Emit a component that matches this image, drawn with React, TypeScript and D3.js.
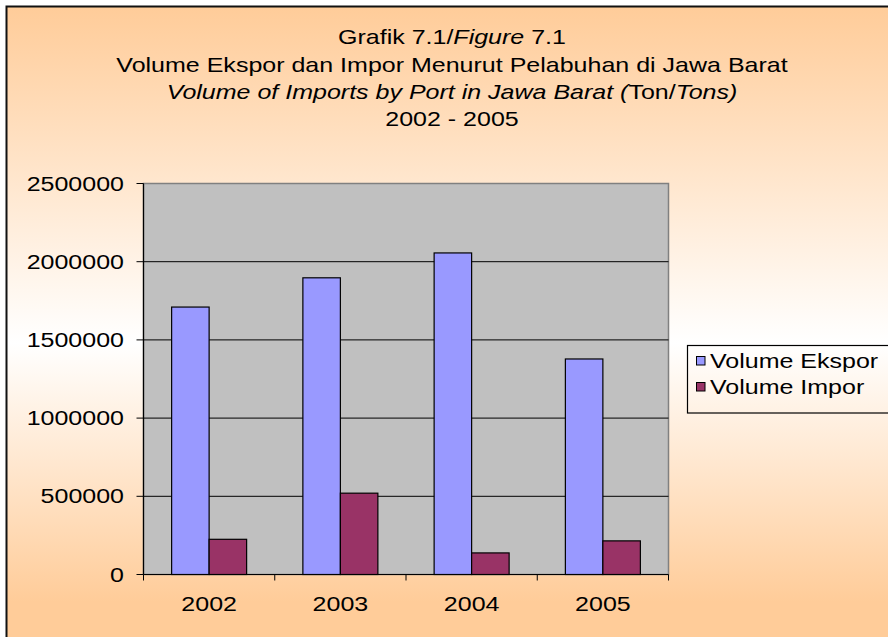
import React from 'react';
import * as d3 from 'd3';

const years = ['2002', '2003', '2004', '2005'];
const seriesNames = ['Volume Ekspor', 'Volume Impor'];
const ekspor = [1710000, 1897000, 2056000, 1378000];
const impor = [225000, 520000, 138000, 215000];
const yTicks = [0, 500000, 1000000, 1500000, 2000000, 2500000];

const colors = ['#9999FF', '#993366'];
const W = 888;
const H = 637;
const SX = 1.22; // text in the original is stretched wide
const font = 'Arial, "Liberation Sans", sans-serif';

const plot = { left: 143.5, right: 668.5, top: 183.5, bottom: 574.5 };

// text stretched horizontally around its anchor
const T = ({ x, y, anchor = 'start', size = 20.5, children, dy }: any) => (
  <text
    transform={`translate(${x},${y}) scale(${SX},1)`}
    textAnchor={anchor}
    fontSize={size}
    fontFamily={font}
    fill="#000"
    dy={dy}
  >
    {children}
  </text>
);

export default function App() {
  const y = d3.scaleLinear().domain([0, 2500000]).range([plot.bottom, plot.top]);
  const x = d3.scaleBand().domain(years).range([plot.left, plot.right]).padding(0);
  const step = x.bandwidth();
  const barW = step / 3.5; // excel gap width 150%
  const inner = d3
    .scaleBand()
    .domain(seriesNames)
    .range([barW * 0.75, step - barW * 0.75]);

  const series = [ekspor, impor];
  const cx = W / 2 + 8;

  return (
    <svg width={W} height={H} style={{ position: 'absolute', left: 0, top: 0 }}>
      <defs>
        <linearGradient id="bg" x1="0" y1="0" x2="0" y2="1">
          <stop offset="0" stopColor="#FFCC99" />
          <stop offset="0.52" stopColor="#FFFFFF" />
          <stop offset="0.92" stopColor="#FFCC99" />
          <stop offset="1" stopColor="#FFCC99" />
        </linearGradient>
      </defs>
      <rect x={0} y={0} width={W} height={H} fill="#fff" />
      <rect x={6.5} y={6.5} width={W + 10} height={H + 10} fill="url(#bg)" stroke="#111" strokeWidth={2} />

      {/* title */}
      <T x={cx} y={44} anchor="middle">
        Grafik 7.1/<tspan fontStyle="italic">Figure</tspan> 7.1
      </T>
      <T x={cx} y={71.5} anchor="middle">
        Volume Ekspor dan Impor Menurut Pelabuhan di Jawa Barat
      </T>
      <T x={cx} y={98.5} anchor="middle">
        <tspan fontStyle="italic">Volume of Imports by Port in Jawa Barat (</tspan>Ton/
        <tspan fontStyle="italic">Tons)</tspan>
      </T>
      <T x={cx} y={126} anchor="middle">
        2002 - 2005
      </T>

      {/* plot area */}
      <rect
        x={plot.left}
        y={plot.top}
        width={plot.right - plot.left}
        height={plot.bottom - plot.top}
        fill="#C0C0C0"
        stroke="#808080"
        strokeWidth={1.5}
      />
      {yTicks.slice(1, -1).map((t) => (
        <line key={t} x1={plot.left} x2={plot.right} y1={y(t)} y2={y(t)} stroke="#000" strokeWidth={1} />
      ))}

      {/* bars */}
      {years.map((yr, i) => (
        <g key={yr} transform={`translate(${x(yr)},0)`}>
          {series.map((s, j) => (
            <rect
              key={j}
              x={inner(seriesNames[j])}
              y={y(s[i])}
              width={inner.bandwidth()}
              height={y(0) - y(s[i])}
              fill={colors[j]}
              stroke="#000"
              strokeWidth={1.2}
            />
          ))}
        </g>
      ))}

      {/* axes */}
      <line x1={plot.left} x2={plot.left} y1={plot.top} y2={plot.bottom} stroke="#000" strokeWidth={1.2} />
      <line x1={plot.left} x2={plot.right} y1={plot.bottom} y2={plot.bottom} stroke="#000" strokeWidth={1.2} />
      {yTicks.map((t) => (
        <g key={t}>
          <line x1={plot.left - 7} x2={plot.left} y1={y(t)} y2={y(t)} stroke="#000" />
          <T x={124} y={y(t)} anchor="end" dy="0.35em">
            {t}
          </T>
        </g>
      ))}
      {[...years.map((yr) => x(yr) as number), plot.right].map((v, i) => (
        <line key={i} x1={v} x2={v} y1={plot.bottom} y2={plot.bottom + 6} stroke="#000" />
      ))}
      {years.map((yr) => (
        <T key={yr} x={(x(yr) as number) + step / 2} y={611} anchor="middle">
          {yr}
        </T>
      ))}

      {/* legend */}
      <rect x={687.5} y={345.5} width={220} height={67.5} fill="none" stroke="#000" strokeWidth={1.2} />
      {seriesNames.map((n, j) => (
        <g key={n}>
          <rect x={696.5} y={356.5 + j * 26} width={8.5} height={8.5} fill={colors[j]} stroke="#000" />
          <T x={710} y={361 + j * 26} dy="0.35em">
            {n}
          </T>
        </g>
      ))}
    </svg>
  );
}
